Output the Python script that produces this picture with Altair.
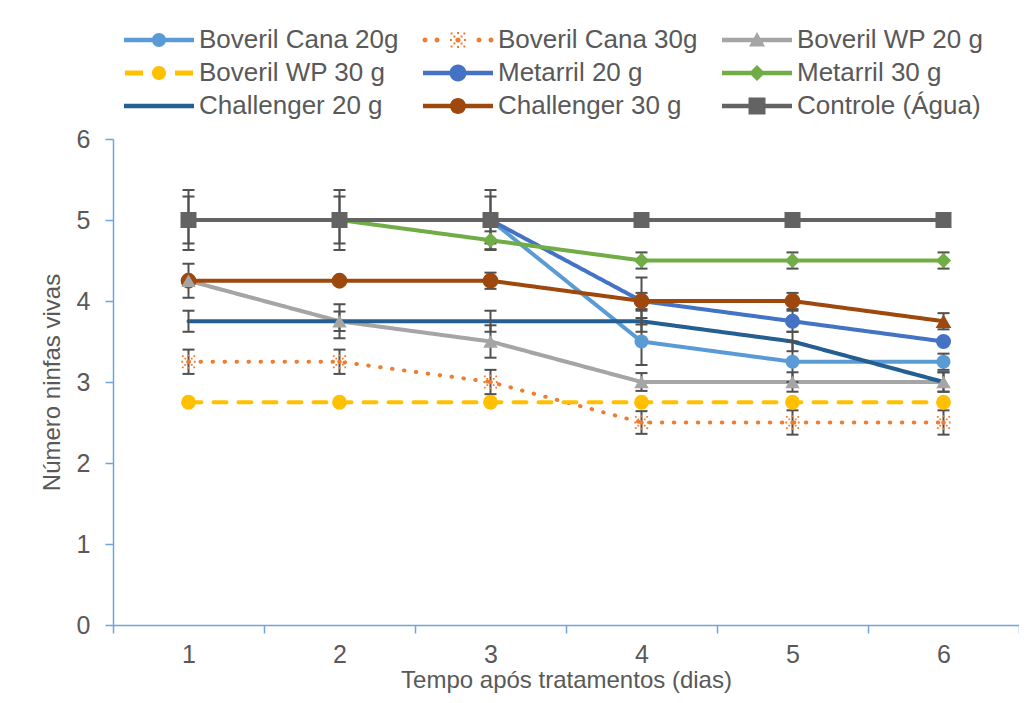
import altair as alt
import pandas as pd

# ---------------- data ----------------
days = [1, 2, 3, 4, 5, 6]
series = ["Boveril Cana 20g", "Boveril Cana 30g", "Boveril WP 20 g",
          "Boveril WP 30 g", "Metarril 20 g", "Metarril 30 g",
          "Challenger 20 g", "Challenger 30 g", "Controle (Água)"]

boveril_cana_20 = [5.0, 5.0, 5.0, 3.5, 3.25, 3.25]
boveril_cana_30 = [3.25, 3.25, 3.0, 2.5, 2.5, 2.5]
boveril_wp_20 = [4.25, 3.75, 3.5, 3.0, 3.0, 3.0]
boveril_wp_30 = [2.75, 2.75, 2.75, 2.75, 2.75, 2.75]
metarril_20 = [5.0, 5.0, 5.0, 4.0, 3.75, 3.5]
metarril_30 = [5.0, 5.0, 4.75, 4.5, 4.5, 4.5]
challenger_20 = [3.75, 3.75, 3.75, 3.75, 3.5, 3.0]
challenger_30 = [4.25, 4.25, 4.25, 4.0, 4.0, 3.75]
controle = [5.0, 5.0, 5.0, 5.0, 5.0, 5.0]

err_boveril_cana_20 = [0.29, 0.29, 0.29, 0.29, 0.25, 0.1]
err_boveril_cana_30 = [0.15, 0.15, 0.15, 0.14, 0.15, 0.15]
err_boveril_wp_20 = [0.0, 0.21, 0.2, 0.11, 0.12, 0.12]
err_boveril_wp_30 = [0.0, 0.0, 0.0, 0.0, 0.0, 0.0]
err_metarril_20 = [0.37, 0.37, 0.37, 0.29, 0.13, 0.0]
err_metarril_30 = [0.0, 0.0, 0.11, 0.1, 0.1, 0.1]
err_challenger_20 = [0.13, 0.12, 0.13, 0.13, 0.12, 0.12]
err_challenger_30 = [0.21, 0.0, 0.1, 0.1, 0.1, 0.1]
err_controle = [0.0, 0.0, 0.0, 0.0, 0.0, 0.0]

all_values = [boveril_cana_20, boveril_cana_30, boveril_wp_20, boveril_wp_30,
              metarril_20, metarril_30, challenger_20, challenger_30, controle]
all_errors = [err_boveril_cana_20, err_boveril_cana_30, err_boveril_wp_20,
              err_boveril_wp_30, err_metarril_20, err_metarril_30,
              err_challenger_20, err_challenger_30, err_controle]

# the last Challenger 30 g point is drawn with a triangle in the original
marker_override = {("Challenger 30 g", 6): "triangle"}

# ---------------- styles ----------------
colors = ["#5B9BD5", "#ED7D31", "#A5A5A5", "#FFC000", "#4472C4",
          "#70AD47", "#255E91", "#9E480E", "#636363"]
dashes = [[1, 0], [0.5, 11.5], [1, 0], [13, 12], [1, 0],
          [1, 0], [1, 0], [1, 0], [1, 0]]
markers = ["circle", "asterisk", "triangle", "circle", "circle",
           "diamond", "none", "circle", "square"]
marker_px = [14, 16, 16, 14, 17, 16, 0, 16, 17]
AXIS_BLUE = "#6FA3DA"
TEXT = "#595959"
FONT = "Liberation Sans"


def f(v):
    return f"{v:.4f}".rstrip("0").rstrip(".")


def circ(cx, cy, r):
    return (f"M{f(cx - r)},{f(cy)}A{f(r)},{f(r)} 0 1,1 {f(cx + r)},{f(cy)}"
            f"A{f(r)},{f(r)} 0 1,1 {f(cx - r)},{f(cy)}Z")


def rect(x0, y0, x1, y1):
    return f"M{f(x0)},{f(y0)}H{f(x1)}V{f(y1)}H{f(x0)}Z"


def marker_path(kind, d, s):
    """marker of pixel size d, in symbol units where 1 unit = s px"""
    h = d / 2.0 / s
    if kind == "circle":
        return circ(0, 0, h)
    if kind == "square":
        return rect(-h, -h, h, h)
    if kind == "diamond":
        return f"M{f(-h)},0L0,{f(-h)}L{f(h)},0L0,{f(h)}Z"
    if kind == "triangle":
        return f"M0,{f(-h)}L{f(h)},{f(h * 0.8)}L{f(-h)},{f(h * 0.8)}Z"
    if kind == "asterisk":
        parts = [circ(0, 0, 2.6 / s)]
        q = 1.0 / s
        for (dx, dy) in [(1, 0), (-1, 0), (0, 1), (0, -1)]:
            r = 7.0 / s
            parts.append(rect(dx * r - q, dy * r - q, dx * r + q, dy * r + q))
        for (dx, dy) in [(1, 1), (-1, 1), (1, -1), (-1, -1)]:
            for r in (3.6 / s, 6.4 / s):
                parts.append(rect(dx * r - q, dy * r - q, dx * r + q, dy * r + q))
        return "".join(parts)
    return ""


# legend symbols: line + marker, 70 px wide, drawn with a small nominal symbol
# size (22 px) so that the legend rows stay compact
LEG_PX = 22.0
LS = LEG_PX / 2.0
legend_paths = []
for name, kind, d, dash in zip(series, markers, marker_px, dashes):
    lw = 2.2 / LS
    if dash == [0.5, 11.5]:
        line = "".join(circ(x / LS, 0, 2.5 / LS) for x in (-33, -21, 21, 33))
    elif dash == [13, 12]:
        line = rect(-34 / LS, -lw * 1.1, -16 / LS, lw * 1.1) + rect(16 / LS, -lw * 1.1, 34 / LS, lw * 1.1)
    else:
        line = rect(-35 / LS, -lw, 35 / LS, lw)
    legend_paths.append(line + marker_path(kind, d, LS))

plot_asterisk = marker_path("asterisk", 16, 8.0)

rows = []
for i, (name, vals, errs, kind) in enumerate(zip(series, all_values, all_errors, markers)):
    for day, v, e in zip(days, vals, errs):
        rows.append({"series": name, "sid": i, "day": day, "value": v, "err": e,
                     "lo": v - e, "hi": v + e,
                     "marker": marker_override.get((name, day), kind)})
df = pd.DataFrame(rows)
err_df = df[df["err"] > 0]
caps = pd.concat([
    err_df.assign(cap=err_df["lo"]),
    err_df.assign(cap=err_df["hi"]),
])

sids = list(range(len(series)))

x_enc = alt.X("day:O", scale=alt.Scale(type="band", paddingInner=0, paddingOuter=0),
              axis=alt.Axis(title="Tempo após tratamentos (dias)", labelAngle=0,
                            tickBand="extent", tickSize=8, labelPadding=9,
                            titlePadding=1))
y_enc = alt.Y("value:Q", scale=alt.Scale(domain=[0, 6], nice=False),
              axis=alt.Axis(title="Número ninfas vivas", values=[0, 1, 2, 3, 4, 5, 6],
                            format="d", tickSize=8, labelPadding=15,
                            titlePadding=12, grid=False))

base = alt.Chart(df)

lines = base.mark_line(strokeWidth=4, strokeCap="round", strokeJoin="round").encode(
    x=x_enc, y=y_enc,
    stroke=alt.Stroke("sid:N", scale=alt.Scale(domain=sids, range=colors), legend=None),
    strokeDash=alt.StrokeDash("sid:N", scale=alt.Scale(domain=sids, range=dashes), legend=None),
    detail="sid:N",
)

rules = alt.Chart(err_df).mark_rule(color="#505050", strokeWidth=2).encode(
    x="day:O", y="lo:Q", y2="hi:Q")
cap_ticks = alt.Chart(caps).mark_tick(color="#505050", thickness=2, size=12, opacity=1).encode(
    x="day:O", y="cap:Q")

point_layers = []
for kind, shape in [("circle", "circle"), ("triangle", "triangle-up"),
                    ("diamond", "diamond"), ("square", "square"),
                    ("asterisk", plot_asterisk)]:
    point_layers.append(
        base.transform_filter(alt.datum.marker == kind)
        .mark_point(filled=True, opacity=1, shape=shape, strokeWidth=0)
        .encode(x="day:O", y="value:Q",
                fill=alt.Fill("sid:N", scale=alt.Scale(domain=sids, range=colors), legend=None),
                size=alt.Size("sid:N", scale=alt.Scale(domain=sids, range=[d * d for d in marker_px]),
                              legend=None))
    )

legend_props = dict(title=None, orient="none", legendX=33, legendY=-112,
                    direction="horizontal", columns=3, columnPadding=23, rowPadding=7,
                    symbolSize=LEG_PX * LEG_PX, symbolStrokeWidth=0, symbolOpacity=1,
                    labelFont=FONT, labelFontSize=26, labelColor=TEXT,
                    labelOffset=27, labelLimit=400, gridAlign="all")
# legend-only layer: no marks are drawn (filtered out), the legend comes from the scale domain
legend_layer = base.transform_filter("datum.day > 100").mark_point(filled=True, opacity=1).encode(
    x="day:O", y="value:Q",
    color=alt.Color("series:N", scale=alt.Scale(domain=series, range=colors),
                    legend=alt.Legend(**legend_props)),
    shape=alt.Shape("series:N", scale=alt.Scale(domain=series, range=legend_paths),
                    legend=alt.Legend(**legend_props)),
)

chart = alt.layer(lines, rules, cap_ticks, *point_layers, legend_layer).properties(
    width=906, height=486,
    padding={"left": 105, "top": 131, "right": 0, "bottom": 70},
    autosize=alt.AutoSizeParams(type="none"),
    background="white",
).configure_view(stroke=None).configure_axis(
    labelFont=FONT, titleFont=FONT, labelFontSize=25, titleFontSize=24,
    labelColor=TEXT, titleColor=TEXT, titleFontWeight="normal",
    domainColor=AXIS_BLUE, tickColor=AXIS_BLUE, domainWidth=1.5, tickWidth=1.5,
)

chart.save("out.html", embed_options={"renderer": "svg", "actions": False})
